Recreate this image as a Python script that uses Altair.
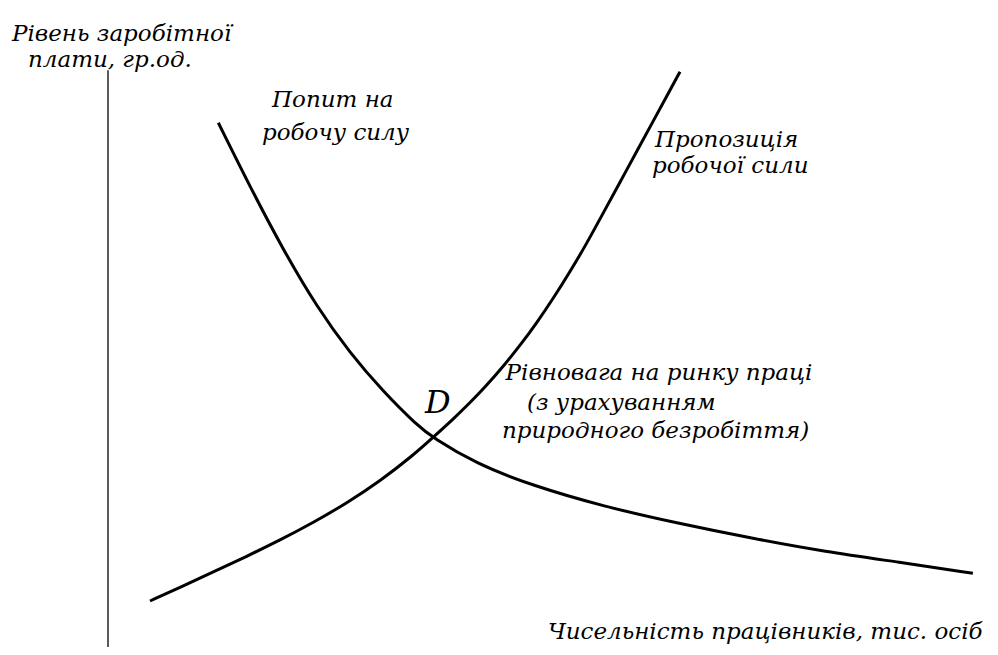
import altair as alt
import pandas as pd

# Demand curve (quantity, wage)
demand_q = [12.68, 16.32, 20.15, 23.99, 27.82, 31.64, 35.48, 37.39, 42.22, 48.57, 57.05, 65.52, 73.99, 82.46, 90.94, 99.41]
demand_w = [91.18, 80.05, 69.04, 59.18, 51.08, 44.40, 38.61, 36.35, 31.95, 28.17, 24.40, 21.51, 18.90, 16.57, 14.75, 12.82]

# Supply curve
supply_q = [4.83, 8.28, 12.10, 15.94, 19.77, 23.60, 27.44, 31.26, 35.09, 37.39, 39.69, 41.61, 43.53,
            45.44, 47.36, 49.28, 51.18, 53.10, 55.02, 56.93, 58.85, 60.77, 62.68, 64.22, 65.75]
supply_w = [8.00, 10.38, 13.04, 15.76, 18.59, 21.63, 25.03, 28.85, 33.36, 36.50, 39.65, 42.47, 45.53,
            48.83, 52.43, 56.37, 60.63, 65.25, 70.17, 75.50, 80.83, 86.19, 91.50, 95.79, 100.05]

# Vertical axis line
axis_q = [0, 0]
axis_w = [0, 100.3]

# Text labels
labels = [
    "Рівень заробітної", "плати, гр.од.",
    "Попит на", "робочу силу",
    "Пропозиція", "робочої сили",
    "Рівновага на ринку праці", "(з урахуванням", "природного безробіття)",
    "Чисельність працівників, тис. осіб",
]
label_q = [-11.03, -9.20, 18.85, 17.70, 62.87, 62.53, 45.70, 48.16, 45.29, 50.57]
label_w = [106.60, 102.10, 95.13, 89.39, 88.17, 83.65, 47.65, 42.43, 37.60, 2.60]

point_label = ["D"]
point_q = [37.92]
point_w = [42.40]

W, H = 982, 639
xs = alt.Scale(domain=[-11.494, 101.379], nice=False, zero=False)
ys = alt.Scale(domain=[0, 111.13], nice=False, zero=False)

curves = pd.DataFrame({
    "q": demand_q + supply_q,
    "w": demand_w + supply_w,
    "curve": ["demand"] * len(demand_q) + ["supply"] * len(supply_q),
})
axis_df = pd.DataFrame({"q": axis_q, "w": axis_w})
text_df = pd.DataFrame({"label": labels, "q": label_q, "w": label_w})
d_df = pd.DataFrame({"label": point_label, "q": point_q, "w": point_w})

X = alt.X("q:Q", scale=xs, axis=None)
Y = alt.Y("w:Q", scale=ys, axis=None)

axis_line = alt.Chart(axis_df).mark_line(color="black", strokeWidth=1.3).encode(x=X, y=Y)

lines = alt.Chart(curves).mark_line(color="black", strokeWidth=3, interpolate="basis").encode(
    x=X, y=Y, detail="curve:N"
)

texts = alt.Chart(text_df).mark_text(
    align="left", baseline="middle", font="DejaVu Serif", fontStyle="italic",
    fontSize=23, color="black"
).encode(x=X, y=Y, text="label:N")

dtext = alt.Chart(d_df).mark_text(
    align="center", baseline="middle", font="DejaVu Serif", fontStyle="italic",
    fontSize=32, color="black"
).encode(x=X, y=Y, text="label:N")

chart = alt.layer(axis_line, lines, texts, dtext).properties(
    width=W, height=H, padding=0,
    autosize=alt.AutoSizeParams(type="none"),
).configure_view(strokeWidth=0, stroke="transparent")

chart.save("out.html", embed_options={"renderer": "svg", "actions": False})
